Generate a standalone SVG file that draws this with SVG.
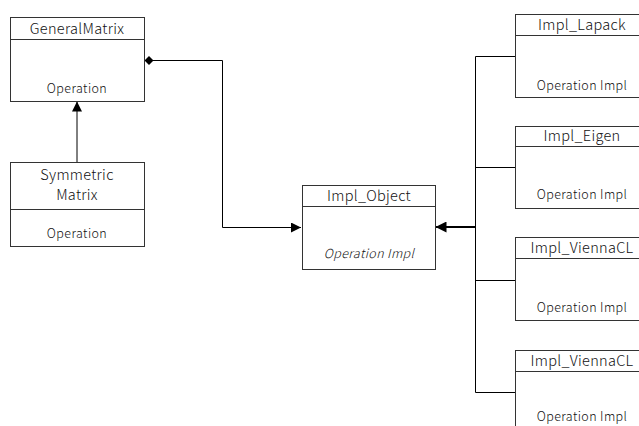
<svg xmlns="http://www.w3.org/2000/svg" width="639" height="426" viewBox="0 0 639 426">
<style>
.box{fill:#fff;stroke:#333;stroke-width:1}
.t{font-family:"Noto Sans CJK JP","Noto Sans",sans-serif;font-weight:300;fill:#111;text-anchor:middle}
.h{font-size:14.5px;letter-spacing:0.3px}
.o{font-size:12.5px;letter-spacing:0.4px}
.i{font-style:italic}
.c{fill:none;stroke:#000;stroke-width:1}
</style>
<defs>
<marker id="tri" viewBox="0 0 10 10" refX="10" refY="5" markerWidth="10" markerHeight="10" markerUnits="userSpaceOnUse" orient="auto"><path d="M0,0 L10,5 L0,10 Z" fill="#000"/></marker>
<marker id="tri2" viewBox="0 0 10 10" refX="10" refY="5" markerWidth="11" markerHeight="11" markerUnits="userSpaceOnUse" orient="auto"><path d="M0,0 L10,5 L0,10 Z" fill="#000"/></marker>
<marker id="dia" viewBox="0 0 10 10" refX="0" refY="5" markerWidth="9" markerHeight="9" markerUnits="userSpaceOnUse" orient="auto"><path d="M0,5 L5,0 L10,5 L5,10 Z" fill="#000"/></marker>
</defs>
<g id="connectors">
<path class="c" d="M144.5,60.5 H222.5 V227.5 H301" marker-start="url(#dia)" marker-end="url(#tri)"/>
<path class="c" stroke="#555" d="M77,162 V101.5" marker-end="url(#tri)"/>
<path class="c" style="stroke-width:2" d="M475,227 H435.5" marker-end="url(#tri2)"/>
<path class="c" d="M475.5,56.5 V392.5 M475.5,56.5 H515 M475.5,167.5 H515 M475.5,280.5 H515 M475.5,392.5 H515"/>
</g>
<g id="GeneralMatrix">
<rect class="box" x="10.5" y="17.5" width="134" height="84"/>
<line class="box" x1="10.5" y1="39.5" x2="144.5" y2="39.5"/>
<text class="t h" x="77" y="34">GeneralMatrix</text>
<text class="t o" x="77" y="93">Operation</text>
</g>
<g id="SymmetricMatrix">
<rect class="box" x="10.5" y="162.5" width="134" height="84"/>
<line class="box" x1="10.5" y1="209.5" x2="144.5" y2="209.5"/>
<text class="t h" x="77" y="180">Symmetric</text>
<text class="t h" x="77" y="200">Matrix</text>
<text class="t o" x="77" y="238">Operation</text>
</g>
<g id="Impl_Object">
<rect class="box" x="302.5" y="185.5" width="133" height="84"/>
<line class="box" x1="302.5" y1="206.5" x2="435.5" y2="206.5"/>
<text class="t h" x="369" y="201">Impl_Object</text>
<text class="t o i" x="369" y="258">Operation Impl</text>
</g>
<g id="Impl_Lapack">
<rect class="box" x="515.5" y="14.5" width="134" height="83"/>
<line class="box" x1="515.5" y1="35.5" x2="649.5" y2="35.5"/>
<text class="t h" x="582" y="30">Impl_Lapack</text>
<text class="t o" x="582" y="90">Operation Impl</text>
</g>
<g id="Impl_Eigen">
<rect class="box" x="515.5" y="126.5" width="134" height="82"/>
<line class="box" x1="515.5" y1="146.5" x2="649.5" y2="146.5"/>
<text class="t h" x="582" y="141">Impl_Eigen</text>
<text class="t o" x="582" y="199">Operation Impl</text>
</g>
<g id="Impl_ViennaCL_1">
<rect class="box" x="515.5" y="237.5" width="134" height="83"/>
<line class="box" x1="515.5" y1="258.5" x2="649.5" y2="258.5"/>
<text class="t h" x="582" y="253">Impl_ViennaCL</text>
<text class="t o" x="582" y="312">Operation Impl</text>
</g>
<g id="Impl_ViennaCL_2">
<rect class="box" x="515.5" y="350.5" width="134" height="90"/>
<line class="box" x1="515.5" y1="371.5" x2="649.5" y2="371.5"/>
<text class="t h" x="582" y="366">Impl_ViennaCL</text>
<text class="t o" x="582" y="421">Operation Impl</text>
</g>
</svg>
